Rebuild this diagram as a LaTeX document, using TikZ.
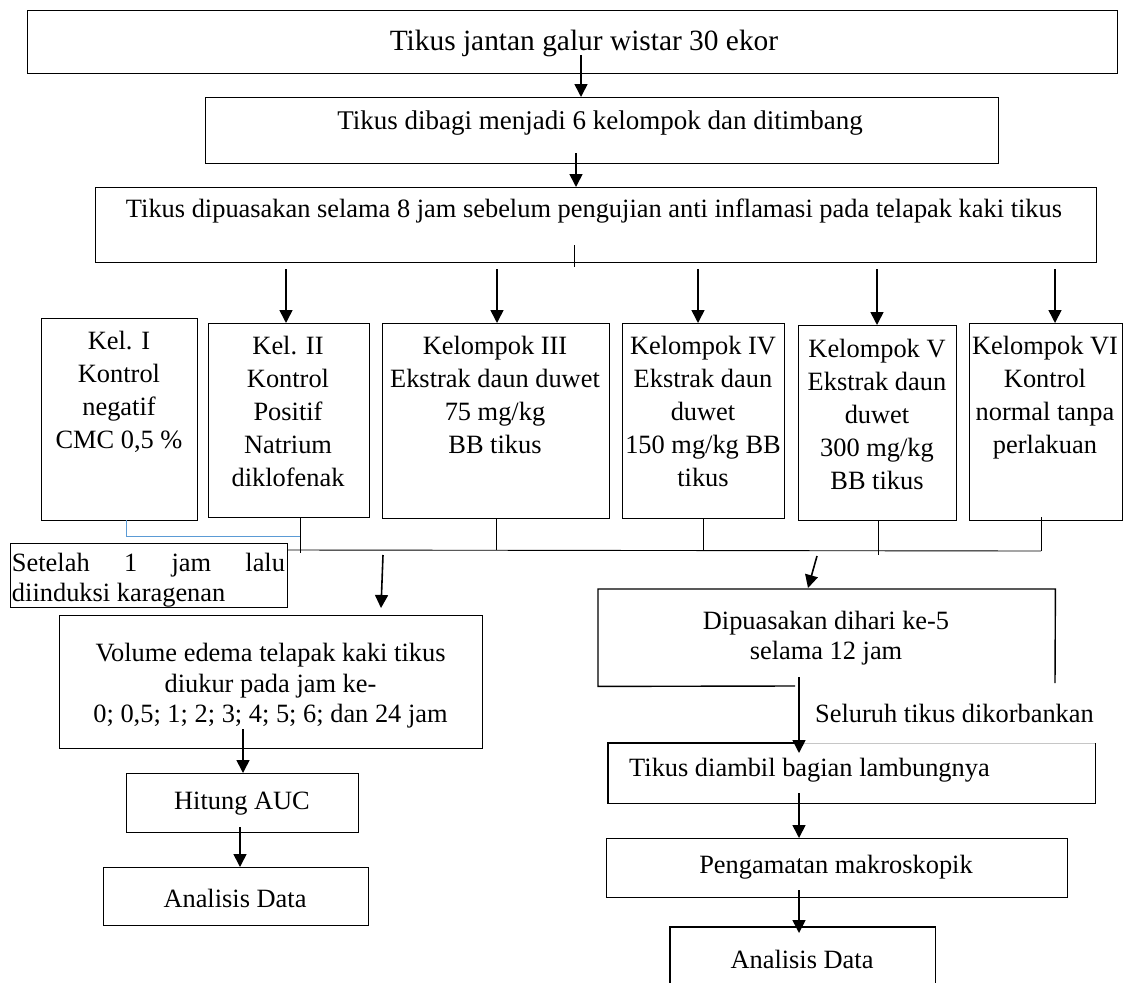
\documentclass[tikz,border=0pt]{standalone}
\usepackage{fontspec}
\setmainfont{Liberation Serif}
\usetikzlibrary{arrows.meta}
\definecolor{wordblue}{RGB}{91,155,213}
\begin{document}
\begin{tikzpicture}[x=1pt,y=-1pt,
  box/.style={draw,line width=1.4pt,inner sep=0pt,anchor=north west},
  frame/.style={inner sep=0pt,anchor=north west},
  edge/.style={line width=1.4pt},
  txt/.style={font=\fontsize{26.4}{30.5}\selectfont,inner sep=0pt,align=center},
  gtxt/.style={font=\fontsize{26.4}{33}\selectfont,inner sep=0pt,align=center,anchor=north},
  arr/.style={line width=1.6pt,-{Triangle[length=13pt,width=13pt]}},
  thin/.style={line width=0.9pt}]
\useasboundingbox (0,0) rectangle (1129,982);

% top boxes
\node[box,minimum width=1090pt,minimum height=63pt] (b1) at (27,10) {};
\node[txt,font=\fontsize{29.4}{33}\selectfont] (t1) at (584,43) {Tikus jantan galur wistar 30 ekor};
\node[box,minimum width=793pt,minimum height=66pt] (b2) at (205,97) {};
\node[txt,font=\fontsize{27}{31}\selectfont] (t2) at (600,123) {Tikus dibagi menjadi 6 kelompok dan ditimbang};
\node[box,minimum width=1001pt,minimum height=75pt] (b3) at (95,187) {};
\node[txt] (t3) at (594,211) {Tikus dipuasakan selama 8 jam sebelum pengujian anti inflamasi pada telapak kaki tikus};

\coordinate (a1) at (581,55);
\draw[arr] (a1) -- (a1 |- b2.north);
\coordinate (a2) at (576,153);
\draw[arr] (a2) -- (a2 |- b3.north);
\coordinate (tk1) at (574,245);
\coordinate (tk2) at (574,267);
\draw[thin] (tk1) -- (tk2);

% group boxes
\node[box,minimum width=156pt,minimum height=202pt] (g1) at (41,318) {};
\node[box,minimum width=161pt,minimum height=194pt] (g2) at (208,323) {};
\node[box,minimum width=227pt,minimum height=195pt] (g3) at (382,323) {};
\node[box,minimum width=162pt,minimum height=195pt] (g4) at (622,323) {};
\node[box,minimum width=158pt,minimum height=195pt] (g5) at (798,325) {};
\node[box,minimum width=153pt,minimum height=197pt] (g6) at (969,323) {};

\node[gtxt] (gt1) at (119,331) {Kel. I\\Kontrol\\negatif\\CMC 0,5 \%};
\node[gtxt] (gt2) at (288,336) {Kel. II\\Kontrol\\Positif\\Natrium\\diklofenak};
\node[gtxt] (gt3) at (495,336) {Kelompok III\\Ekstrak daun duwet\\75 mg/kg\\BB tikus};
\node[gtxt] (gt4) at (703,336) {Kelompok IV\\Ekstrak daun\\duwet\\150 mg/kg BB\\tikus};
\node[gtxt] (gt5) at (877,339) {Kelompok V\\Ekstrak daun\\duwet\\300 mg/kg\\BB tikus};
\node[gtxt] (gt6) at (1045,336) {Kelompok VI\\Kontrol\\normal tanpa\\perlakuan};

\foreach \xx/\g in {286/g2, 497/g3, 698/g4, 877/g5, 1055/g6} {
  \coordinate (s\g) at (\xx,269);
  \draw[arr] (s\g) -- (s\g |- \g.north);
}

% collecting lines
\coordinate (c1) at (126,520);
\coordinate (bj) at (300,536);
\draw[wordblue,thin] (c1) |- (bj);
\coordinate (c2) at (300,553);
\draw[thin] (g2.south -| c2) -- (c2);
\coordinate (busL) at (287,550);
\coordinate (busR) at (1041,551);
\draw[thin] (busL) -- (busR);
\draw[thin] (g3.south) -- (g3.south |- busL);
\draw[thin] (g4.south) -- (g4.south |- busL);
\coordinate (c5) at (878,555);
\draw[thin] (g5.south -| c5) -- (c5);
\coordinate (c6) at (1041,517);
\draw[thin] (c6) -- (busR);

% left branch
\node[box,minimum width=277pt,minimum height=64pt] (st) at (10,543) {};
\node[txt,align=left,anchor=north,font=\fontsize{26.4}{30}\selectfont] (stt) at (148.5,553)
  {\makebox[273pt][s]{Setelah 1 jam lalu}\\\makebox[273pt][l]{diinduksi karagenan}};

\coordinate (la) at (383,555);
\coordinate (lb) at (381,608);
\draw[arr] (la) -- (lb);

\node[box,minimum width=423pt,minimum height=133pt] (vb) at (59,615) {};
\node[txt,anchor=north] (vt) at (270.5,643) {Volume edema telapak kaki tikus\\diukur pada jam ke-\\0; 0,5; 1; 2; 3; 4; 5; 6; dan 24 jam};

\node[box,minimum width=232pt,minimum height=59pt] (hb) at (126,773) {};
\node[txt] (ht) at (242,804) {Hitung AUC};
\coordinate (v1) at (243,729);
\draw[arr] (v1) -- (v1 |- hb.north);

\node[box,minimum width=265pt,minimum height=58pt] (ab1) at (103,867) {};
\node[txt] (at1) at (235,898) {Analisis Data};
\coordinate (h1) at (240,827);
\draw[arr] (h1) -- (h1 |- ab1.north);

% right branch
\coordinate (ra) at (817,556);
\coordinate (rb) at (808,588);
\draw[arr] (ra) -- (rb);

\node[frame,minimum width=457pt,minimum height=97pt] (dp) at (598,589) {};
\coordinate (dpb) at (795,686);
\coordinate (dpr) at (1055,683);
\draw[edge] (dpb) -- (dp.south west) -- (dp.north west) -- (dp.north east) -- (dpr);
\node[txt] (dpt) at (826,638) {Dipuasakan dihari ke-5\\selama 12 jam};

\node[frame,minimum width=487pt,minimum height=60pt] (td) at (608,743) {};
\coordinate (d1) at (799,677);
\coordinate (d2) at (799,753);
\node[txt,anchor=west] (sl) at (815,713) {Seluruh tikus dikorbankan};
\coordinate (tdm) at (797,743);
\draw[gray!45,line width=0.8pt] (tdm) -- (td.north east);
\draw[edge] (tdm) -- (td.north west) -- (td.south west) -- (td.south east) -- (td.north east);
\node[txt,anchor=west] (tdt) at (629,770) {Tikus diambil bagian lambungnya};
\draw[arr] (d1) -- (d2);

\node[box,minimum width=461pt,minimum height=59pt] (pm) at (606,838) {};
\node[txt] (pmt) at (836,867) {Pengamatan makroskopik};
\coordinate (t1a) at (799,793);
\draw[arr] (t1a) -- (t1a |- pm.north);

\node[frame,minimum width=265pt,minimum height=70pt] (ab2) at (670,927) {};
\draw[edge] (ab2.south west) -- (ab2.north west) -- (ab2.north east) -- (ab2.south east);
\node[txt] (at2) at (802,959) {Analisis Data};
\coordinate (p1) at (799,890);
\coordinate (p2) at (799,933);
\draw[arr] (p1) -- (p2);
\end{tikzpicture}
\end{document}
